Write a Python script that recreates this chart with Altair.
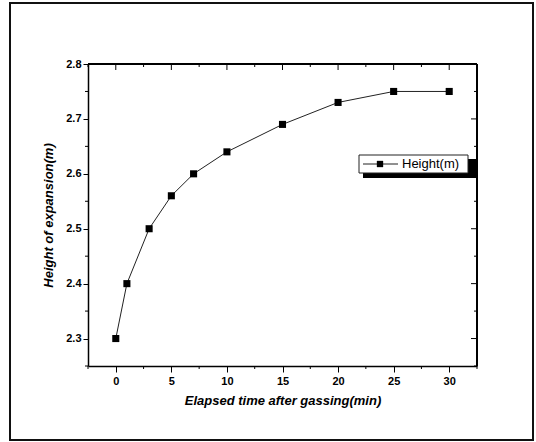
import altair as alt
import pandas as pd

# data
time_min = [0, 1, 3, 5, 7, 10, 15, 20, 25, 30]
height_m = [2.30, 2.40, 2.50, 2.56, 2.60, 2.64, 2.69, 2.73, 2.75, 2.75]
series_name = "Height(m)"

x_major = [0, 5, 10, 15, 20, 25, 30]
x_minor = [-2.5, 2.5, 7.5, 12.5, 17.5, 22.5, 27.5, 32.5]
y_major = [2.3, 2.4, 2.5, 2.6, 2.7, 2.8]
y_minor = [2.25, 2.35, 2.45, 2.55, 2.65, 2.75]

W, H = 389, 302
FONT = "Liberation Sans"

df = pd.DataFrame({"t": time_min, "h": height_m})
xs = alt.Scale(domain=[-2.5, 32.5], nice=False, zero=False)
ys = alt.Scale(domain=[2.25, 2.8], nice=False, zero=False)

base = alt.Chart(df)

line = base.mark_line(color="#222", strokeWidth=1).encode(
    x=alt.X("t:Q", scale=xs, axis=alt.Axis(
        values=x_major, title="Elapsed time after gassing(min)", format="d",
        tickSize=6, labelPadding=3, domainColor="black", tickColor="black",
        domainWidth=1.5, labelFontWeight="bold", labelFontSize=11, labelFont=FONT,
        labelColor="black", titleFont=FONT, titleFontSize=13, titleFontWeight="bold",
        titleFontStyle="italic", titleColor="black", titlePadding=8, grid=False)),
    y=alt.Y("h:Q", scale=ys, axis=alt.Axis(
        values=y_major, title="Height of expansion(m)", format=".1f",
        tickSize=5, labelPadding=2, domainColor="black", tickColor="black",
        domainWidth=1.5, labelFontWeight="bold", labelFontSize=11, labelFont=FONT,
        labelColor="black", titleFont=FONT, titleFontSize=13, titleFontWeight="bold",
        titleFontStyle="italic", titleColor="black", titlePadding=10, grid=False)),
)
pts = base.mark_point(shape="square", filled=True, color="black", size=50, opacity=1).encode(
    x=alt.X("t:Q", scale=xs), y=alt.Y("h:Q", scale=ys))

# extra ticks
dxmin = pd.DataFrame({"v": x_minor})
dymin = pd.DataFrame({"v": y_minor})
dxmaj = pd.DataFrame({"v": x_major})
dymaj = pd.DataFrame({"v": y_major})

bot_minor = alt.Chart(dxmin).mark_rule(color="black").encode(
    x=alt.X("v:Q", scale=xs), y=alt.value(H), y2=alt.value(H + 3))
left_minor = alt.Chart(dymin).mark_rule(color="black").encode(
    y=alt.Y("v:Q", scale=ys), x=alt.value(-3), x2=alt.value(0))
top_major = alt.Chart(dxmaj).mark_rule(color="black").encode(
    x=alt.X("v:Q", scale=xs), y=alt.value(0), y2=alt.value(6))
top_minor = alt.Chart(dxmin).mark_rule(color="black").encode(
    x=alt.X("v:Q", scale=xs), y=alt.value(0), y2=alt.value(3))
right_major = alt.Chart(dymaj).mark_rule(color="black").encode(
    y=alt.Y("v:Q", scale=ys), x=alt.value(W - 6), x2=alt.value(W))
right_minor = alt.Chart(dymin).mark_rule(color="black").encode(
    y=alt.Y("v:Q", scale=ys), x=alt.value(W - 3), x2=alt.value(W))
top_edge = alt.Chart(dxmaj).mark_rule(color="black", strokeWidth=1.5).encode(
    x=alt.value(0), x2=alt.value(W), y=alt.value(0))
right_edge = alt.Chart(dxmaj).mark_rule(color="black", strokeWidth=1.5).encode(
    x=alt.value(W), y=alt.value(0), y2=alt.value(H))

# legend (drawn)
dleg = pd.DataFrame({"name": [series_name]})
leg_shadow = alt.Chart(dleg).mark_rect(color="black").encode(
    x=alt.value(275), x2=alt.value(389), y=alt.value(95), y2=alt.value(114))
leg_box = alt.Chart(dleg).mark_rect(fill="white", stroke="#222", strokeWidth=1).encode(
    x=alt.value(271), x2=alt.value(380), y=alt.value(91), y2=alt.value(109))
leg_line = alt.Chart(dleg).mark_rule(color="#222", strokeWidth=1).encode(
    x=alt.value(275), x2=alt.value(310), y=alt.value(100))
leg_pt = alt.Chart(dleg).mark_point(shape="square", filled=True, color="black", size=40, opacity=1).encode(
    x=alt.value(292), y=alt.value(100))
leg_txt = alt.Chart(dleg).mark_text(align="left", baseline="middle", font=FONT, fontSize=13, color="black").encode(
    x=alt.value(314), y=alt.value(100), text="name:N")

# outer frame
frame = alt.Chart(dleg).mark_rect(fill=None, stroke="#111", strokeWidth=2).encode(
    x=alt.value(-78), x2=alt.value(445), y=alt.value(-61), y2=alt.value(376))

chart = alt.layer(
    frame, bot_minor, left_minor, top_major, top_minor, right_major, right_minor,
    top_edge, right_edge, line, pts, leg_shadow, leg_box, leg_line, leg_pt, leg_txt
).properties(
    width=W, height=H,
    autosize=alt.AutoSizeParams(type="none"),
    padding={"left": 88, "top": 64, "right": 536 - 88 - W, "bottom": 442 - 64 - H},
    background="white",
).configure_view(stroke=None)

chart.save("out.html", embed_options={"renderer": "svg", "actions": False})
